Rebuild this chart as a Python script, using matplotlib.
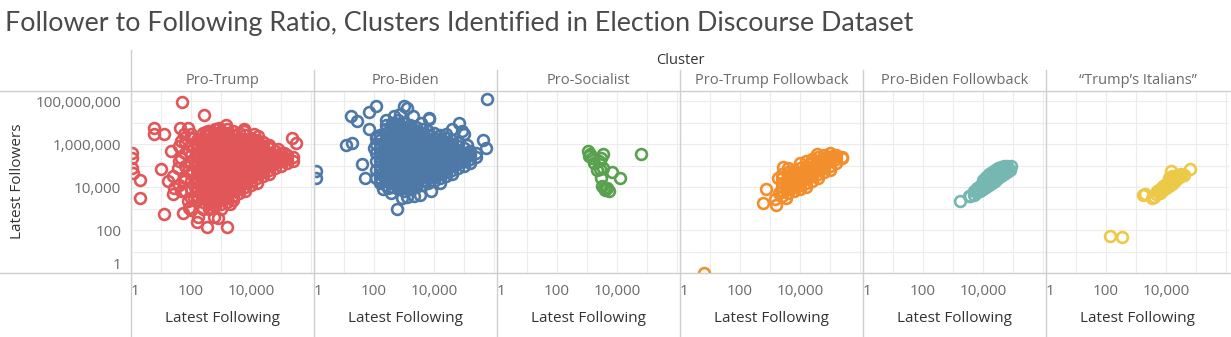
# follower / following scatter, one small multiple per cluster

import matplotlib.pyplot as plt
import numpy as np
from matplotlib.lines import Line2D

plt.rcParams['font.family'] = ['Open Sans', 'DejaVu Sans']

clusters = ["Pro-Trump", "Pro-Biden", "Pro-Socialist", "Pro-Trump Followback",
            "Pro-Biden Followback", "\u201cTrump\u2019s Italians\u201d"]
colors = ["#e15759", "#4e79a7", "#59a14f", "#f28e2b", "#76b7b2", "#edc948"]

# values are log10 of the counts
# dense parts: (log10 following, [log10 followers, ...])
pro_trump_core = [
    (1.6, [4.1, 5.2, 5.9]),
    (1.8, [3.8, 4.4, 5.0, 5.6, 6.1]),
    (2.0, [3.5, 3.9, 4.3, 4.7, 5.1, 5.5, 5.9, 6.3]),
    (2.2, [3.4, 3.6, 3.8, 4.0, 4.2, 4.4, 4.6, 4.8, 5.0, 5.2, 5.4, 5.6, 5.8, 6.0, 6.2]),
    (2.4, [3.3, 3.5, 3.7, 3.9, 4.1, 4.3, 4.5, 4.7, 4.9, 5.1, 5.3, 5.5, 5.7, 5.9, 6.1, 6.3, 6.5]),
    (2.6, [3.2, 3.4, 3.6, 3.8, 4.0, 4.2, 4.4, 4.6, 4.8, 5.0, 5.2, 5.4, 5.6, 5.8, 6.0, 6.2, 6.4, 6.6]),
    (2.8, [3.1, 3.3, 3.5, 3.7, 3.9, 4.1, 4.3, 4.5, 4.7, 4.9, 5.1, 5.3, 5.5, 5.7, 5.9, 6.1, 6.3, 6.5, 6.7]),
    (3.0, [3.2, 3.4, 3.6, 3.8, 4.0, 4.2, 4.4, 4.6, 4.8, 5.0, 5.2, 5.4, 5.6, 5.8, 6.0, 6.2, 6.4, 6.6]),
    (3.2, [3.3, 3.5, 3.7, 3.9, 4.1, 4.3, 4.5, 4.7, 4.9, 5.1, 5.3, 5.5, 5.7, 5.9, 6.1, 6.3, 6.5, 6.7]),
    (3.4, [3.4, 3.6, 3.8, 4.0, 4.2, 4.4, 4.6, 4.8, 5.0, 5.2, 5.4, 5.6, 5.8, 6.0, 6.2, 6.4, 6.6]),
    (3.6, [3.7, 3.9, 4.1, 4.3, 4.5, 4.7, 4.9, 5.1, 5.3, 5.5, 5.7, 5.9, 6.1, 6.3, 6.5]),
    (3.8, [3.8, 4.0, 4.2, 4.4, 4.6, 4.8, 5.0, 5.2, 5.4, 5.6, 5.8, 6.0, 6.2, 6.4]),
    (4.0, [4.1, 4.3, 4.5, 4.7, 4.9, 5.1, 5.3, 5.5, 5.7, 5.9, 6.1, 6.3]),
    (4.2, [4.2, 4.4, 4.6, 4.8, 5.0, 5.2, 5.4, 5.6, 5.8, 6.0, 6.2]),
    (4.4, [4.5, 4.7, 4.9, 5.1, 5.3, 5.5, 5.7, 5.9, 6.1]),
    (4.6, [4.6, 4.8, 5.0, 5.2, 5.4, 5.6, 5.8]),
    (4.8, [4.9, 5.1, 5.3, 5.5, 5.7]),
    (5.0, [5.0, 5.2, 5.4, 5.6]),
    (5.2, [5.1, 5.3, 5.5]),
    (5.4, [5.2, 5.4]),
]
pro_trump_spread = [
    (1.69, 7.97), (2.42, 7.33), (0.76, 6.77), (0.76, 6.45), (1.11, 6.45), (1.64, 6.77),
    (0.03, 5.60), (0.03, 5.36), (0.03, 4.90), (0.05, 4.67), (0.30, 4.31), (0.30, 3.50),
    (1.11, 2.76), (1.33, 5.67), (1.00, 4.82), (1.72, 2.78), (2.00, 2.92), (2.22, 2.60),
    (2.20, 2.39), (2.53, 2.16), (3.19, 2.16), (2.78, 2.60), (3.00, 2.96), (1.39, 3.66),
    (1.22, 4.28), (5.36, 6.30), (5.50, 6.03), (4.22, 6.37), (3.78, 6.60), (3.17, 6.87),
    (2.50, 6.57), (2.00, 6.45), (4.61, 5.98), (1.67, 6.14), (1.78, 6.45), (1.67, 5.36),
    (1.56, 4.90), (1.39, 4.50), (1.44, 3.97), (1.67, 3.81), (1.78, 4.28), (1.89, 3.35),
    (1.94, 3.04), (2.39, 2.96), (2.67, 3.04), (2.89, 2.57), (2.11, 3.50), (1.89, 4.74),
    (1.94, 5.67), (2.06, 6.29), (1.89, 6.76), (2.56, 6.60), (2.94, 6.76), (3.78, 6.68),
    (4.10, 6.45), (4.56, 5.98), (5.11, 5.60), (4.90, 5.75), (2.60, 3.00), (3.30, 3.20),
]

pro_biden_core = [
    (2.05, [4.4, 4.8, 5.2, 5.6, 6.0, 6.3]),
    (2.2, [4.2, 4.4, 4.6, 4.8, 5.0, 5.2, 5.4, 5.6, 5.8, 6.0, 6.2, 6.4]),
    (2.4, [4.1, 4.3, 4.5, 4.7, 4.9, 5.1, 5.3, 5.5, 5.7, 5.9, 6.1, 6.3, 6.5, 6.7, 6.9]),
    (2.6, [4.0, 4.2, 4.4, 4.6, 4.8, 5.0, 5.2, 5.4, 5.6, 5.8, 6.0, 6.2, 6.4, 6.6, 6.8, 7.0]),
    (2.8, [3.9, 4.1, 4.3, 4.5, 4.7, 4.9, 5.1, 5.3, 5.5, 5.7, 5.9, 6.1, 6.3, 6.5, 6.7, 6.9, 7.1]),
    (3.0, [3.8, 4.0, 4.2, 4.4, 4.6, 4.8, 5.0, 5.2, 5.4, 5.6, 5.8, 6.0, 6.2, 6.4, 6.6, 6.8, 7.0]),
    (3.2, [3.9, 4.1, 4.3, 4.5, 4.7, 4.9, 5.1, 5.3, 5.5, 5.7, 5.9, 6.1, 6.3, 6.5, 6.7, 6.9]),
    (3.4, [4.0, 4.2, 4.4, 4.6, 4.8, 5.0, 5.2, 5.4, 5.6, 5.8, 6.0, 6.2, 6.4, 6.6, 6.8]),
    (3.6, [4.1, 4.3, 4.5, 4.7, 4.9, 5.1, 5.3, 5.5, 5.7, 5.9, 6.1, 6.3, 6.5, 6.7]),
    (3.8, [4.2, 4.4, 4.6, 4.8, 5.0, 5.2, 5.4, 5.6, 5.8, 6.0, 6.2, 6.4, 6.6]),
    (4.0, [4.3, 4.5, 4.7, 4.9, 5.1, 5.3, 5.5, 5.7, 5.9, 6.1, 6.3, 6.5]),
    (4.2, [4.4, 4.6, 4.8, 5.0, 5.2, 5.4, 5.6, 5.8, 6.0, 6.2, 6.4]),
    (4.4, [4.5, 4.7, 4.9, 5.1, 5.3, 5.5, 5.7, 5.9, 6.1, 6.3]),
    (4.6, [4.6, 4.8, 5.0, 5.2, 5.4, 5.6, 5.8, 6.0, 6.2]),
    (4.8, [4.9, 5.1, 5.3, 5.5, 5.7, 5.9, 6.1]),
    (5.0, [5.0, 5.2, 5.4, 5.6, 5.8]),
    (5.2, [5.1, 5.3, 5.5, 5.7]),
    (5.4, [5.4, 5.6]),
]
pro_biden_spread = [
    (5.78, 8.12), (2.06, 7.77), (1.83, 7.50), (1.22, 7.30), (1.44, 7.07), (1.06, 5.98),
    (1.26, 6.06), (1.83, 6.68), (2.09, 6.37), (1.61, 5.09), (1.69, 4.43), (0.05, 4.74),
    (0.05, 4.43), (2.78, 2.99), (2.56, 3.74), (2.94, 3.50), (3.53, 3.61), (3.89, 3.81),
    (3.00, 7.77), (3.11, 7.69), (2.67, 7.30), (3.83, 7.15), (3.56, 6.99), (4.83, 6.99),
    (4.94, 6.60), (5.00, 6.45), (4.39, 6.45), (5.64, 6.17), (5.72, 5.80), (5.11, 5.98),
    (2.00, 5.83), (2.22, 4.28), (3.33, 3.60), (3.10, 3.55), (2.45, 3.95), (2.85, 7.40),
    (3.30, 7.30), (3.83, 7.22), (2.30, 3.90), (4.20, 4.20), (4.60, 6.70), (2.40, 7.10),
]

pro_socialist_spread = [
    (3.02, 5.67), (3.09, 5.52), (3.06, 5.44), (3.17, 5.36), (3.22, 5.13), (3.53, 5.55),
    (3.47, 5.36), (3.39, 5.21), (3.33, 4.78), (3.44, 4.82), (3.53, 4.87), (3.83, 4.71),
    (4.09, 4.40), (3.47, 4.40), (3.50, 4.05), (3.58, 3.97), (3.67, 3.94), (3.72, 3.81),
    (3.61, 3.84), (4.80, 5.55),
]

trump_followback_core = [
    (3.4, [3.6, 3.8, 4.0, 4.2, 4.4, 4.6]),
    (3.6, [3.7, 3.9, 4.1, 4.3, 4.5, 4.7]),
    (3.8, [3.8, 4.0, 4.2, 4.4, 4.6, 4.8]),
    (4.0, [3.9, 4.1, 4.3, 4.5, 4.7, 4.9, 5.1]),
    (4.2, [4.0, 4.2, 4.4, 4.6, 4.8, 5.0, 5.2]),
    (4.4, [4.3, 4.5, 4.7, 4.9, 5.1, 5.3]),
    (4.6, [4.4, 4.6, 4.8, 5.0, 5.2, 5.4]),
    (4.8, [4.7, 4.9, 5.1, 5.3, 5.5]),
    (5.0, [4.8, 5.0, 5.2, 5.4, 5.6]),
    (5.2, [5.1, 5.3, 5.5]),
    (5.4, [5.4]),
]
trump_followback_spread = [
    (0.80, 0.00), (2.78, 3.24), (3.19, 3.16), (3.17, 3.46), (2.87, 3.89), (3.28, 4.40),
    (3.44, 4.93), (3.53, 3.47), (4.56, 5.52), (5.39, 5.36), (5.11, 5.44), (3.60, 4.90),
    (3.30, 3.70),
]

biden_followback_spread = [
    (3.24, 3.35), (3.53, 3.58), (3.58, 3.60), (3.70, 3.65), (3.70, 3.80), (3.80, 3.75),
    (3.80, 3.95), (3.90, 3.80), (3.90, 4.05), (4.00, 3.90), (4.00, 4.15), (4.00, 4.35),
    (4.10, 4.00), (4.10, 4.25), (4.10, 4.45), (4.20, 4.10), (4.20, 4.35), (4.20, 4.60),
    (4.30, 4.20), (4.30, 4.45), (4.30, 4.70), (4.40, 4.30), (4.40, 4.55), (4.40, 4.80),
    (4.50, 4.40), (4.50, 4.65), (4.50, 4.90), (4.60, 4.50), (4.60, 4.75), (4.60, 4.95),
    (4.70, 4.60), (4.70, 4.85), (4.70, 5.00), (4.80, 4.70), (4.80, 4.90), (4.80, 5.00),
    (4.90, 4.80), (4.94, 4.98),
]

italians_spread = [
    (2.14, 1.72), (2.53, 1.69), (4.81, 4.85), (3.22, 3.63), (3.31, 3.69), (3.53, 3.47),
    (3.60, 3.55), (3.67, 3.66), (3.70, 3.80), (3.80, 3.70), (3.80, 3.90), (3.90, 3.85),
    (3.90, 4.05), (4.00, 3.95), (4.00, 4.15), (4.10, 4.05), (4.10, 4.25), (4.10, 4.40),
    (4.20, 4.15), (4.20, 4.35), (4.20, 4.50), (4.30, 4.30), (4.30, 4.50), (4.40, 4.40),
    (4.40, 4.55), (4.50, 4.50), (4.50, 4.60), (4.60, 4.55), (4.17, 4.74),
]

cores = [pro_trump_core, pro_biden_core, [], trump_followback_core, [], []]
spreads = [pro_trump_spread, pro_biden_spread, pro_socialist_spread,
           trump_followback_spread, biden_followback_spread, italians_spread]

x_decades = [1, 10, 100, 1000, 10000, 100000, 1000000]
x_labelled = [1, 100, 10000]
y_decades = [1, 10, 100, 1000, 10000, 100000, 1000000, 10000000, 100000000]
y_labelled = [1, 100, 10000, 1000000, 100000000]

W, H = 1231, 337
left0, pw, top, bottom = 131, 183, 91, 273


def fx(px):
    return px / W


def fy(py):
    return 1 - py / H


def points(core, spread):
    xs, ys = [], []
    for lx, lys in core:
        for ly in lys:
            xs.append(lx)
            ys.append(ly)
    for lx, ly in spread:
        xs.append(lx)
        ys.append(ly)
    return 10 ** np.array(xs), 10 ** np.array(ys)


fig = plt.figure(figsize=(W / 100, H / 100), dpi=100)

grid_c = "#ececec"
line_c = "#cfcfcf"
tick_c = "#6b6b6b"
dark = "#333333"

for i, name in enumerate(clusters):
    ax = fig.add_axes([fx(left0 + pw * i), fy(bottom), fx(pw), (bottom - top) / H])
    x, y = points(cores[i], spreads[i])
    ax.plot(x, y, 'o', mfc='none', mec=colors[i], ms=7.8, mew=1.9, zorder=3)
    ax.set_xscale('log')
    ax.set_yscale('log')
    ax.set_xlim(1, 10 ** 6.1)
    ax.set_ylim(1, 10 ** 8.47)
    ax.set_xticks(x_decades)
    ax.set_xticklabels([f"{v:,}" if v in x_labelled else "" for v in x_decades])
    ax.set_yticks(y_decades)
    ax.set_yticklabels([f"{v:,}" if v in y_labelled else "" for v in y_decades])
    ax.minorticks_off()
    ax.tick_params(length=0, colors=tick_c, labelsize=11)
    ax.tick_params(axis='x', pad=8)
    ax.tick_params(axis='y', pad=7)
    ax.xaxis.get_ticklabels()[0].set_ha('left')
    if i == 0:
        ax.yaxis.get_ticklabels()[0].set_va('bottom')
    else:
        ax.set_yticklabels([])
    ax.grid(True, color=grid_c, lw=0.8)
    ax.set_axisbelow(True)
    for s in ax.spines.values():
        s.set_visible(False)
    ax.patch.set_alpha(0)

    cx = left0 + pw * i + pw / 2
    fig.text(fx(cx), fy(80), name, ha='center', va='center', color=tick_c, fontsize=10.5)
    fig.text(fx(cx), fy(318), "Latest Following", ha='center', va='center',
             color=dark, fontsize=11)

# frame lines
fig.add_artist(Line2D([0, 1], [fy(top), fy(top)], color=line_c, lw=1))
fig.add_artist(Line2D([0, 1], [fy(bottom), fy(bottom)], color=line_c, lw=1))
fig.add_artist(Line2D([fx(left0), fx(left0)], [fy(50), 0], color=line_c, lw=1))
for i in range(1, 6):
    xp = left0 + pw * i
    fig.add_artist(Line2D([fx(xp), fx(xp)], [fy(70), 0], color=line_c, lw=1))

fig.text(fx(5), fy(23), "Follower to Following Ratio, Clusters Identified in Election Discourse Dataset",
         ha='left', va='center', color="#4a4a4a", fontsize=19.4,
         family=['Lato', 'Open Sans', 'DejaVu Sans'])
fig.text(fx(680), fy(60), "Cluster", ha='center', va='center', color=dark, fontsize=10.5)
fig.text(fx(18), fy(181), "Latest Followers", ha='center', va='center', rotation=90,
         color=dark, fontsize=11)

fig.savefig("out.png", dpi=100)
